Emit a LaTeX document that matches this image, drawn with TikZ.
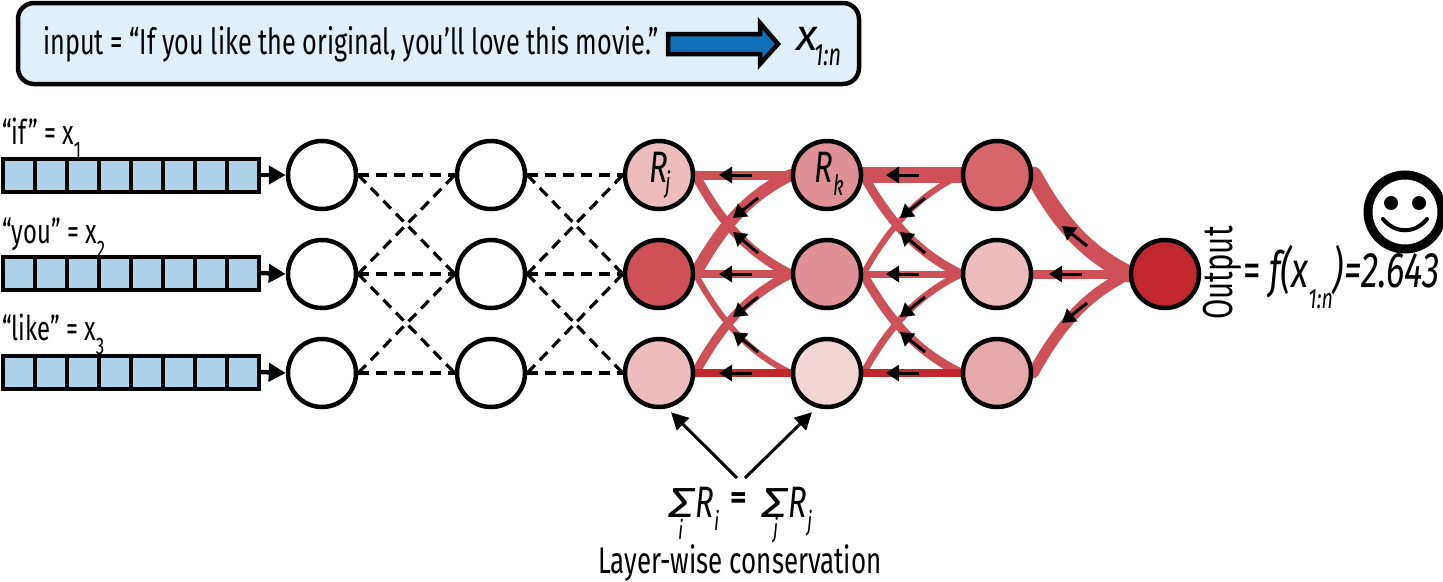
\documentclass[tikz,border=0pt]{standalone}
\usepackage{fontspec}
\setmainfont{Fira Sans}[FakeStretch=0.70]
\newfontfamily\widefont{Fira Sans}
\usetikzlibrary{arrows.meta,backgrounds}
\definecolor{edgered}{HTML}{CE5157}
\definecolor{darkred}{HTML}{C1272D}
\definecolor{boxfill}{HTML}{E1EFF8}
\definecolor{cellfill}{HTML}{AED2EA}
\definecolor{bluearrow}{HTML}{0F6FB8}
\definecolor{nodeA}{HTML}{EDBCBF}
\definecolor{nodeB}{HTML}{DF9196}
\definecolor{nodeC}{HTML}{F2D4D5}
\definecolor{nodeD}{HTML}{D7666B}
\definecolor{nodeE}{HTML}{E6A8AB}
\newcommand{\fsz}[1]{\fontsize{#1}{#1}\selectfont}
\newcommand{\sbs}[2]{\raisebox{-.42em}{\fsz{#1}#2}}
\tikzset{
  neuron/.style={circle,draw=black,line width=4.5pt,minimum size=68pt,inner sep=0pt,fill=#1},
  neuron/.default=white,
  cell/.style={rectangle,draw=black,line width=4pt,minimum width=32pt,minimum height=33pt,inner sep=0pt,fill=cellfill},
  dash edge/.style={draw=black,line width=3.2pt,dash pattern=on 11pt off 7pt},
  feed/.style={draw=black,line width=4.5pt,-{Triangle[length=17pt,width=18pt]}},
  relev/.style={draw=edgered,line width=#1,line cap=round},
  relevdark/.style={draw=darkred,line width=#1},
  flow/.style={draw=black,line width=3pt,-{Triangle[length=13pt,width=16pt]}},
  pointer/.style={draw=black,line width=3pt,-{Triangle[length=17pt,width=17pt]}},
  txt/.style={inner sep=0pt,anchor=base west,font=\fsz{#1}},
  itxt/.style={inner sep=0pt,anchor=base west,font=\fsz{#1}\itshape},
  wtxt/.style={inner sep=0pt,anchor=base west,font=\widefont\fsz{#1}\itshape},
}
\begin{document}
\begin{tikzpicture}[x=1pt,y=-1pt]
\useasboundingbox (0,0) rectangle (1443,581);
% top box
\node[draw=black,line width=4.5pt,fill=boxfill,rounded corners=16pt,minimum width=841pt,minimum height=81pt,inner sep=0pt] (inbox) at (438.5,43.5) {};
\node[txt=36] (intext) at (43,54) {input = “If you like the original, you’ll love this movie.”};
\filldraw[draw=black,line width=4.5pt,fill=bluearrow,miter limit=6] (668,34) -- (760,34) -- (760,23) -- (778,44) -- (760,64) -- (760,54) -- (668,54) -- cycle;
\node[wtxt=44] (xbig) at (796,50) {x};
\node[itxt=31] (xsub) at (814,65) {1:n};
% embeddings
\foreach \r/\y in {1/175,2/273,3/372}{
  \foreach \c in {1,...,8}{
    \node[cell] (v\r-\c) at ({-13+32*\c},\y) {};
  }
}
\node[txt=34] (l1) at (2,144) {“if” = x\sbs{24}{1}};
\node[txt=34] (l2) at (2,243) {“you” = x\sbs{24}{2}};
\node[txt=34] (l3) at (2,340) {“like” = x\sbs{24}{3}};
% neurons
\foreach \r/\y in {1/175,2/274,3/373}{
  \node[neuron] (a\r) at (322,\y) {};
  \node[neuron] (b\r) at (491,\y) {};
}
\node[neuron=nodeA] (j1) at (659,175) {};
\node[neuron=edgered] (j2) at (659,274) {};
\node[neuron=nodeA] (j3) at (659,373) {};
\node[neuron=nodeB] (k1) at (827,175) {};
\node[neuron=nodeB] (k2) at (827,274) {};
\node[neuron=nodeC] (k3) at (827,373) {};
\node[neuron=nodeD] (m1) at (997,175) {};
\node[neuron=nodeA] (m2) at (997,274) {};
\node[neuron=nodeE] (m3) at (997,373) {};
\node[neuron=darkred] (out) at (1165,274) {};
\node[itxt=44] (rj) at (649,182) {R};
\node[itxt=28] (rjs) at (665,192) {j};
\node[itxt=44] (rk) at (814,182) {R};
\node[itxt=28] (rks) at (833,195) {k};
% feeds
\foreach \r in {1,2,3}{
  \draw[feed] (v\r-8.east) -- (a\r.west);
}
% dashed
\foreach \p/\q in {a/b,b/j}{
  \foreach \s/\t in {1/1,1/2,2/1,2/2,2/3,3/2,3/3}{
    \draw[dash edge] (\p\s.east) -- (\q\t.west);
  }
}
\begin{pgfonlayer}{background}
  % layer j-k
  \draw[relev=9pt] (j1.east) -- (k1.west);
  \draw[relev=8pt] (j2.east) -- (k2.west);
  \draw[relev=9pt] (j1.east) .. controls +(25,45) and +(-45,-22) .. (k2.west);
  \draw[relev=6pt] (j2.east) .. controls +(25,45) and +(-45,-22) .. (k3.west);
  \draw[relev=12pt] (j2.east) .. controls +(25,-45) and +(-45,22) .. (k1.west);
  \draw[relev=9pt] (j3.east) .. controls +(25,-45) and +(-45,22) .. (k2.west);
  \draw[relevdark=8pt] (j3.east) -- (k3.west);
  % layer k-m
  \draw[relev=16pt] (k1.east) -- (m1.west);
  \draw[relev=7pt] (k2.east) -- (m2.west);
  \draw[relev=9pt] (k1.east) .. controls +(25,45) and +(-45,-22) .. (m2.west);
  \draw[relev=9pt] (k2.east) .. controls +(25,45) and +(-45,-22) .. (m3.west);
  \draw[relev=6pt] (k2.east) .. controls +(25,-45) and +(-45,22) .. (m1.west);
  \draw[relev=7pt] (k3.east) .. controls +(25,-45) and +(-45,22) .. (m2.west);
  \draw[relevdark=8pt] (k3.east) -- (m3.west);
  % layer m-out
  \draw[relev=17pt] (m1.east) .. controls +(25,45) and +(-45,-22) .. (out.west);
  \draw[relev=9pt] (m2.east) -- (out.west);
  \draw[relev=11pt] (m3.east) .. controls +(25,-45) and +(-45,22) .. (out.west);
\end{pgfonlayer}
% flow arrows
\foreach \dx in {0,167}{
  \foreach \ya/\xa/\yb/\xb in {175/752/175/719, 274/752/274/719, 373/752/373/719,
     198/758/218/733, 253/758/232/733, 297/758/317/733, 352/758/332/733}{
    \coordinate (ft) at (\xa+\dx,\ya);
    \coordinate (fh) at (\xb+\dx,\yb);
    \draw[flow] (ft) -- (fh);
  }
}
\coordinate (g1t) at (1087,246); \coordinate (g1h) at (1062,226);
\coordinate (g2t) at (1082,274); \coordinate (g2h) at (1049,274);
\coordinate (g3t) at (1087,303); \coordinate (g3h) at (1062,323);
\draw[flow] (g1t) -- (g1h);
\draw[flow] (g2t) -- (g2h);
\draw[flow] (g3t) -- (g3h);
% output label
\node[inner sep=0pt,anchor=base,rotate=90,font=\fsz{42}] (outlab) at (1232,273) {Output};
\node[itxt=50] (feq) at (1243,287) {\upshape=\,\itshape f(x\sbs{28}{1:n})=2.643};
% smiley
\node[circle,draw=black,line width=9pt,minimum size=74pt,inner sep=0pt] (face) at (1405,212) {};
\fill (1391,203) circle (7pt);
\fill (1419,203) circle (7pt);
\draw[line width=4pt,line cap=round] (1383,219) .. controls (1395,234) and (1415,234) .. (1427,219);
% conservation
\node[wtxt=42] (s1) at (668,517) {\scalebox{1.25}[1]{Σ}};
\node[itxt=44] (r1) at (695,517) {R};
\node[itxt=26] (r1s) at (714,530) {i};
\node[itxt=26] (s1s) at (678,539) {i};
\node[inner sep=0pt,anchor=base,font=\widefont\fsz{32}\bfseries] (eq) at (739,508) {=};
\node[wtxt=42] (s2) at (761,517) {\scalebox{1.25}[1]{Σ}};
\node[itxt=44] (r2) at (788,517) {R};
\node[itxt=26] (r2s) at (807,530) {j};
\node[itxt=26] (s2s) at (773,537) {j};
\node[txt=37] (cons) at (598,573) {Layer-wise conservation};
\coordinate (p1) at (737,478);
\coordinate (p2) at (745,478);
\draw[pointer] (p1) -- ([shift={(12,3)}]j3.south);
\draw[pointer] (p2) -- ([shift={(-15,3)}]k3.south);
\end{tikzpicture}
\end{document}
